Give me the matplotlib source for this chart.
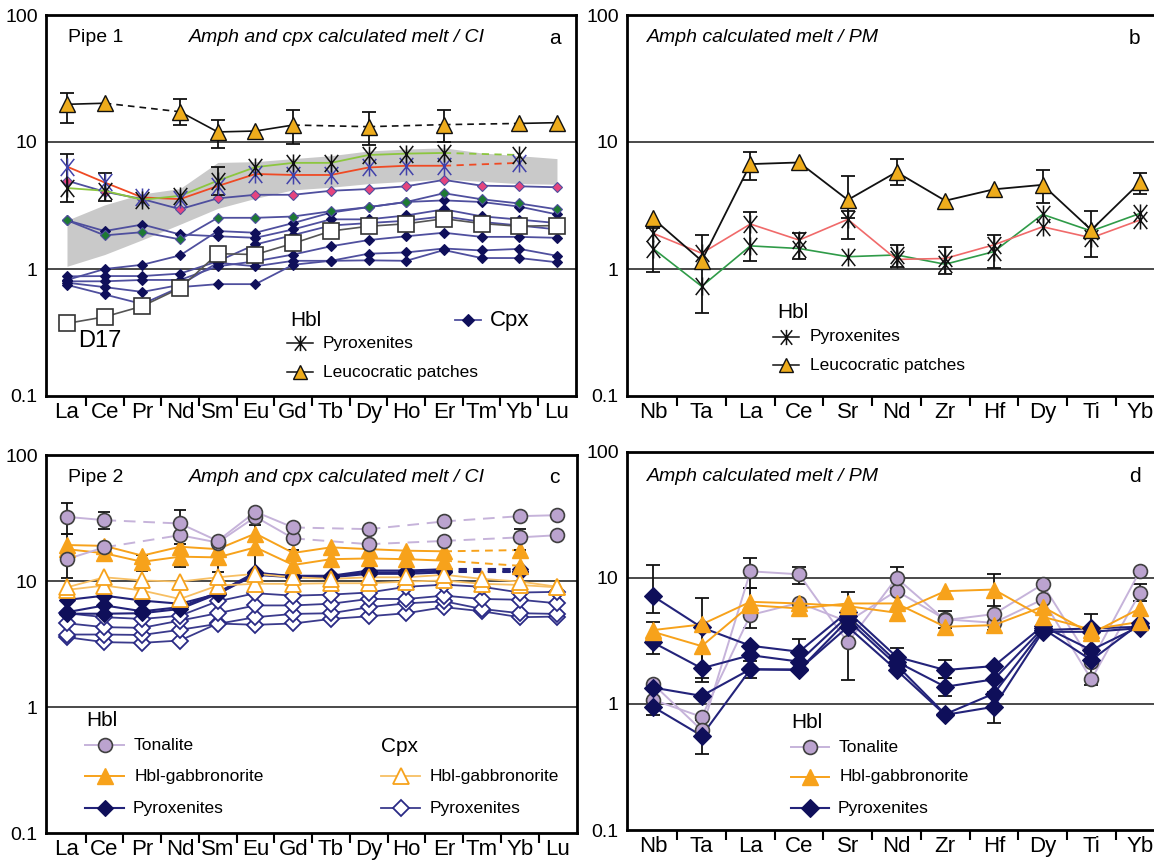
import numpy as np
import matplotlib
matplotlib.use("Agg")
import matplotlib.pyplot as plt
from matplotlib.lines import Line2D
from matplotlib.path import Path

plt.rcParams["font.family"] = ["Liberation Sans", "DejaVu Sans"]

nan = np.nan

# ---------------------------------------------------------------- data
REE = ["La", "Ce", "Pr", "Nd", "Sm", "Eu", "Gd", "Tb", "Dy", "Ho", "Er", "Tm", "Yb", "Lu"]
PM = ["Nb", "Ta", "La", "Ce", "Sr", "Nd", "Zr", "Hf", "Dy", "Ti", "Yb"]
YTICKS = [0.1, 1, 10, 100]
YTICKLABELS = ["0.1", "1", "10", "100"]

# Pipe 1 (panel a), chondrite-normalised
a_leuco = [19.8, 20.2, nan, 17.3, 12.0, 12.2, 13.6, nan, 13.2, nan, 13.7, nan, 14.0, 14.2]
a_leuco_lo = [14.2, nan, nan, 13.6, 9.0, nan, 9.7, nan, 9.4, nan, 10.0, nan, nan, nan]
a_leuco_hi = [24.5, nan, nan, 21.7, 14.9, nan, 17.8, nan, 17.3, nan, 17.8, nan, nan, nan]
a_pyx1 = [4.34, 4.13, 3.51, 3.77, 4.96, 6.34, 6.85, 6.85, 7.9, 8.1, 8.2, nan, 7.9, nan]
a_pyx1_lo = [3.4, 3.45, nan, nan, 3.8, nan, nan, nan, nan, nan, nan, nan, nan, nan]
a_pyx1_hi = [8.0, 5.75, nan, nan, 6.3, nan, nan, nan, nan, nan, nan, nan, nan, nan]
a_pyx2 = [6.4, 4.8, 3.66, 3.55, 4.5, 5.6, 5.5, 5.5, 6.3, 6.5, 6.5, nan, 6.85, nan]
a_band_lo = [1.05, 1.3, 1.7, 2.25, 3.0, 3.6, 4.2, 4.4, 4.7, 4.9, 5.1, 4.9, 4.7, 4.65]
a_band_hi = [2.42, 3.2, 3.9, 4.3, 6.9, 7.0, 7.4, 7.8, 8.5, 8.8, 9.0, 8.2, 7.8, 7.4]
a_cpx_pink = [4.96, 4.06, 3.55, 2.96, 3.6, 3.84, 3.84, 4.13, 4.26, 4.48, 5.03, 4.53, 4.48, 4.4]
a_cpx_green = [2.42, 1.84, 1.95, 1.71, 2.53, 2.53, 2.59, 2.85, 3.07, 3.37, 3.95, 3.54, 3.28, 2.95]
a_cpx1 = [2.42, 1.99, 2.24, 1.87, 1.81, 1.76, 2.05, 2.46, 2.46, 2.64, 2.95, 2.6, 2.45, 2.3]
a_cpx2 = [0.82, 1.0, 1.08, 1.28, 1.99, 1.93, 2.3, 2.78, 3.07, 3.37, 3.47, 3.37, 3.1, 2.69]
a_cpx3 = [0.875, 0.88, 0.88, 0.92, 1.15, 1.56, 1.85, 2.2, 2.3, 2.4, 2.6, 2.35, 2.2, 2.05]
a_cpx4 = [0.80, 0.80, 0.82, 0.82, 1.05, 1.15, 1.30, 1.51, 1.69, 1.81, 1.93, 1.79, 1.79, 1.76]
a_cpx5 = [0.78, 0.72, 0.66, 0.75, 1.12, 1.05, 1.16, 1.16, 1.32, 1.35, 1.45, 1.40, 1.44, 1.27]
a_cpx6 = [0.75, 0.63, 0.53, 0.72, 0.76, 0.76, 1.08, 1.16, 1.17, 1.16, 1.41, 1.22, 1.22, 1.13]
a_d17 = [0.373, 0.42, 0.51, 0.707, 1.32, 1.30, 1.59, 1.99, 2.17, 2.27, 2.49, 2.28, 2.17, 2.2]

# Pipe 1 (panel b), primitive-mantle-normalised
b_leuco = [2.5, 1.16, 6.7, 6.9, 3.5, 5.8, 3.45, 4.24, 4.6, 2.03, 4.8]
b_leuco_lo = [nan, 1.0, 5.0, nan, 2.5, 4.6, nan, nan, 3.3, 1.25, 3.87]
b_leuco_hi = [nan, 1.85, 8.4, nan, 5.4, 7.36, nan, nan, 6.0, 2.86, 5.7]
b_pyx1 = [1.91, 1.33, 2.26, 1.69, 2.46, 1.19, 1.21, 1.55, 2.15, 1.76, 2.43]
b_pyx1_lo = [nan, nan, nan, nan, 1.71, nan, nan, nan, nan, nan, nan]
b_pyx1_hi = [nan, nan, nan, nan, 2.86, nan, nan, nan, nan, nan, nan]
b_pyx2 = [1.45, 0.73, 1.52, 1.45, 1.25, 1.29, 1.09, 1.37, 2.69, 1.99, 2.74]
b_pyx2_lo = [0.94, 0.45, 1.16, 1.19, nan, 1.04, 0.91, 1.01, nan, nan, nan]
b_pyx2_hi = [2.1, 1.0, 2.8, 1.93, nan, 1.55, 1.5, 1.85, nan, nan, nan]

# Pipe 2 (panel c), chondrite-normalised
c_ton1 = [32.3, 30.4, nan, 28.6, 20.8, 35.4, 26.6, nan, 25.8, nan, 29.7, nan, 32.7, 33.3]
c_ton1_lo = [23.5, 25.8, nan, 22.0, nan, nan, nan, nan, nan, nan, nan, nan, nan, nan]
c_ton1_hi = [41.4, 35.0, nan, 36.5, nan, nan, nan, nan, nan, nan, nan, nan, nan, nan]
c_ton2 = [14.9, 18.5, nan, 23.1, 20.2, 32.3, 21.8, nan, 19.6, nan, 20.8, nan, 22.2, 23.1]
c_ton2_lo = [nan, nan, nan, nan, nan, nan, nan, nan, nan, nan, nan, nan, 17.5, nan]
c_ton2_hi = [nan, nan, nan, nan, nan, nan, nan, nan, nan, nan, nan, nan, 26.1, nan]
c_gab1 = [19.3, 19.0, 15.9, 18.7, 17.9, 23.8, 16.7, 18.5, 17.9, 17.4, 17.2, nan, 17.6, nan]
c_gab2 = [17.9, 16.6, 14.2, 15.6, 15.4, 18.5, 13.4, 14.9, 15.1, 14.9, 14.5, nan, 13.2, nan]
c_gab2_lo = [10.6, nan, 12.0, 12.8, 11.8, 11.6, 12.0, nan, nan, nan, nan, nan, nan, nan]
c_gab2_hi = [23.5, nan, 16.0, 19.5, 19.5, 28.0, 17.5, nan, nan, nan, nan, nan, nan, nan]
c_cgab1 = [8.9, 10.7, 10.1, 9.9, 10.7, 11.4, 10.7, 10.4, 10.7, 10.7, 11.2, 10.4, 9.9, 9.0]
c_cgab2 = [8.5, 9.2, 8.4, 7.2, 9.2, 9.5, 9.5, 9.6, 9.6, 9.9, 10.1, 9.5, 9.3, 8.9]
c_pyx1 = [7.07, 7.65, 6.99, 6.6, 7.9, 11.5, 11.0, 11.0, 12.1, 12.1, 12.4, nan, 12.4, nan]
c_pyx2 = [5.65, 6.4, 5.75, 6.2, 8.1, 11.7, 10.8, 10.9, 11.7, 11.7, 12.1, nan, 12.1, nan]
c_pyx3 = [5.5, 5.5, 5.55, 6.0, 7.9, 11.2, 10.7, 10.7, 11.4, 11.4, 11.7, nan, 11.7, nan]
c_cpyx1 = [5.55, 5.16, 5.0, 5.3, 6.9, 8.0, 7.65, 7.8, 8.1, 9.0, 9.35, 9.0, 8.1, 8.2]
c_cpyx2 = [4.62, 4.30, 4.25, 4.85, 5.55, 6.4, 6.4, 6.6, 7.2, 7.2, 7.65, 7.2, 7.1, 6.65]
c_cpyx3 = [3.76, 3.76, 3.73, 4.1, 4.57, 5.16, 5.48, 5.55, 6.19, 6.65, 6.9, 6.0, 5.55, 5.48]
c_cpyx4 = [3.58, 3.27, 3.23, 3.37, 4.6, 4.49, 4.6, 5.0, 5.25, 5.55, 6.2, 5.75, 5.16, 5.22]

# Pipe 2 (panel d), primitive-mantle-normalised
d_ton1 = [1.44, 0.62, 11.3, 10.7, 3.08, 10.0, 4.63, 5.17, 8.9, 2.17, 11.4]
d_ton1_lo = [nan, nan, 8.3, 9.0, 1.55, 8.3, 4.0, nan, nan, nan, nan]
d_ton1_hi = [nan, nan, 14.5, 12.3, 7.7, 12.3, 5.5, nan, nan, nan, nan]
d_ton2 = [1.08, 0.79, 5.08, 6.35, 4.5, 7.9, 4.7, 4.41, 6.76, 1.57, 7.6]
d_ton2_lo = [nan, nan, nan, nan, nan, nan, nan, 3.9, nan, 1.42, 6.6]
d_ton2_hi = [nan, nan, nan, nan, nan, nan, nan, 6.0, nan, 2.5, 9.0]
d_gab1 = [3.86, 4.28, 6.47, 6.28, 5.98, 5.3, 7.86, 8.1, 4.92, 3.9, 4.49]
d_gab1_lo = [nan, nan, nan, nan, nan, nan, nan, 4.3, nan, nan, nan]
d_gab1_hi = [nan, nan, nan, nan, nan, nan, nan, 10.7, nan, nan, nan]
d_gab2 = [3.74, 2.88, 6.09, 5.73, 6.28, 6.28, 4.1, 4.23, 5.91, 3.63, 5.73]
d_gab2_lo = [nan, 1.6, 4.0, nan, nan, nan, nan, nan, nan, 3.2, nan]
d_gab2_hi = [nan, 6.9, 8.3, nan, nan, nan, nan, nan, nan, 5.2, nan]
d_pyx1 = [7.18, 4.05, 2.9, 2.6, 5.4, 2.37, 1.86, 2.0, 4.15, 2.68, 4.15]
d_pyx1_lo = [5.3, nan, nan, 2.1, nan, 2.0, 1.6, nan, nan, nan, nan]
d_pyx1_hi = [12.6, nan, nan, 3.3, nan, 2.8, 2.23, 2.6, nan, nan, nan]
d_pyx2 = [3.08, 1.92, 2.44, 2.17, 4.99, 2.17, 1.37, 1.57, 3.98, 2.23, 4.36]
d_pyx2_lo = [2.5, 1.5, nan, nan, nan, nan, 1.15, nan, nan, nan, nan]
d_pyx2_hi = [4.5, 2.5, nan, nan, nan, nan, 1.6, nan, nan, nan, nan]
d_pyx3 = [1.35, 1.16, 1.89, 1.86, 4.63, 2.04, 0.83, 1.21, 3.86, 3.98, 4.1]
d_pyx4 = [0.95, 0.56, 1.88, 1.88, 4.1, 1.86, 0.82, 0.95, 3.74, 3.74, 4.0]
d_pyx4_lo = [0.82, 0.40, 1.6, nan, nan, nan, nan, 0.71, nan, nan, nan]
d_pyx4_hi = [1.1, 0.75, 2.2, nan, nan, nan, nan, 1.25, nan, nan, nan]

# ---------------------------------------------------------------- styling
NAVY = "#0f0f5a"
NAVY_LINE_A = "#4f4f9e"
NAVY_LINE = "#23237a"
PINK = "#e6447e"
DGREEN = "#1d7a33"
LGREEN = "#8cc63f"
RED = "#ef4a24"
BLUE_X = "#4242aa"
GOLD = "#eeac1c"
TON_FILL = "#bba3cf"
TON_LINE = "#c6b3da"
TON_EDGE = "#404040"
ORANGE = "#f7a21b"
ORANGE_LIGHT = "#f7bf63"
GRID = "#3a3a3a"

# six-armed asterisk: vertical bar plus a steep X
STAR = Path(
    [(0, -1), (0, 1), (-0.75, -0.95), (0.75, 0.95), (-0.75, 0.95), (0.75, -0.95)],
    [Path.MOVETO, Path.LINETO, Path.MOVETO, Path.LINETO, Path.MOVETO, Path.LINETO],
)

W, H = 1154, 863
fig = plt.figure(figsize=(W / 100, H / 100), dpi=100)
fig.patch.set_facecolor("white")


def make_axes(left, right, top, bottom, labels, first_px, step_px):
    ax = fig.add_axes([left / W, 1 - bottom / H, (right - left) / W, (bottom - top) / H])
    ax.set_yscale("log")
    ax.set_ylim(0.1, 100)
    ax.set_xlim(-(first_px - left) / step_px, (right - first_px) / step_px)
    n = len(labels)
    ax.set_xticks(np.arange(n) + 0.5 if False else np.arange(n - 1) + 0.5)
    ax.set_xticklabels([])
    ax.set_xticks(np.arange(n), minor=True)
    ax.set_xticklabels(labels, minor=True, fontsize=16)
    ax.tick_params(axis="x", which="major", direction="out", length=7, width=1.5, color="black")
    ax.tick_params(axis="x", which="minor", length=0, pad=4)
    ax.set_yticks(YTICKS)
    ax.set_yticklabels(YTICKLABELS, fontsize=14)
    ax.yaxis.set_minor_locator(plt.NullLocator())
    ax.tick_params(axis="y", length=0, pad=6)
    for s in ax.spines.values():
        s.set_linewidth(2.0)
        s.set_color("black")
    for yv in (1, 10):
        ax.axhline(yv, color=GRID, lw=1.3, zorder=1)
    return ax


def series(ax, vals, color, lw, marker, ms, mfc, mec, mew=1.0, z=3, dash=(4, 3)):
    v = np.array(vals, dtype=float)
    idx = np.where(~np.isnan(v))[0]
    run = [idx[0]]
    for a, b in zip(idx[:-1], idx[1:]):
        if b - a == 1:
            run.append(b)
        else:
            if len(run) > 1:
                ax.plot(run, v[run], color=color, lw=lw, zorder=z)
            ax.plot([a, b], [v[a], v[b]], color=color, lw=lw, ls=(0, dash), zorder=z)
            run = [b]
    if len(run) > 1:
        ax.plot(run, v[run], color=color, lw=lw, zorder=z)
    if marker is not None:
        ax.plot(idx, v[idx], ls="none", marker=marker, ms=ms, mfc=mfc, mec=mec, mew=mew, zorder=z + 0.5)


def errs(ax, vals, lo, hi, cap=5, z=2.5):
    v = np.array(vals, dtype=float)
    lo = np.array(lo, dtype=float)
    hi = np.array(hi, dtype=float)
    idx = np.where(~np.isnan(lo))[0]
    ax.errorbar(idx, v[idx], yerr=[v[idx] - lo[idx], hi[idx] - v[idx]], fmt="none",
                ecolor="#111111", elinewidth=1.3, capsize=cap, capthick=1.3, zorder=z)


def fx(x):
    return x / W


def fy(y):
    return 1 - y / H


def ftext(x, y, s, size, **kw):
    fig.text(fx(x), fy(y), s, fontsize=size, ha=kw.pop("ha", "left"), va=kw.pop("va", "center"), **kw)


def fkey(x0, x1, y, color, lw, marker, ms, mfc, mec, mew=1.0):
    fig.add_artist(Line2D([fx(x0), fx(x1)], [fy(y), fy(y)], color=color, lw=lw, transform=fig.transFigure))
    fig.add_artist(Line2D([fx((x0 + x1) / 2)], [fy(y)], marker=marker, ms=ms, mfc=mfc, mec=mec, mew=mew,
                          ls="none", transform=fig.transFigure))


# ---------------------------------------------------------------- panel a
axa = make_axes(46, 576, 15, 396, REE, 67, 37.69)
axa.fill_between(np.arange(len(REE)), a_band_lo, a_band_hi, color="#c9c9c9", lw=0, zorder=1.2)
for s in (a_cpx6, a_cpx5, a_cpx4, a_cpx3, a_cpx2, a_cpx1):
    series(axa, s, NAVY_LINE_A, 1.3, "D", 5.5, NAVY, NAVY, 0.8, z=3)
series(axa, a_cpx_green, NAVY_LINE_A, 1.3, "D", 5.5, DGREEN, NAVY_LINE_A, 0.8, z=3.2)
series(axa, a_cpx_pink, NAVY_LINE_A, 1.3, "D", 5.5, PINK, NAVY_LINE_A, 0.8, z=3.2)
series(axa, a_d17, "#555555", 1.2, "s", 11, "white", "#333333", 1.2, z=3.6)
errs(axa, a_pyx1, a_pyx1_lo, a_pyx1_hi, z=3.7)
series(axa, a_pyx2, RED, 1.3, STAR, 13, "none", BLUE_X, 1.1, z=3.8)
series(axa, a_pyx1, LGREEN, 1.3, STAR, 13, "none", "#111111", 1.1, z=3.9)
errs(axa, a_leuco, a_leuco_lo, a_leuco_hi, z=4)
series(axa, a_leuco, "#111111", 1.2, "^", 12, GOLD, "#111111", 1.0, z=4.2)

ftext(68, 38, "Pipe 1", 14)
ftext(189, 38, "Amph and cpx calculated melt / CI", 14, style="italic")
ftext(549, 38, "a", 15)
ftext(78, 341, "D17", 17)
ftext(290, 320, "Hbl", 15)
fkey(287, 313, 343, "#111111", 1.1, STAR, 11, "none", "#111111", 1.1)
ftext(323, 343, "Pyroxenites", 12.5)
fkey(287, 313, 372, "#111111", 1.1, "^", 10, GOLD, "#111111", 1.0)
ftext(323, 372, "Leucocratic patches", 12.5)
fkey(455, 481, 320, NAVY_LINE_A, 1.3, "D", 6, NAVY, NAVY, 0.8)
ftext(490, 320, "Cpx", 16)

# ---------------------------------------------------------------- panel b
axb = make_axes(627, 1166, 15, 396, PM, 653, 48.7)
errs(axb, b_pyx2, b_pyx2_lo, b_pyx2_hi, z=2.5)
errs(axb, b_pyx1, b_pyx1_lo, b_pyx1_hi, z=2.5)
series(axb, b_pyx2, "#2f9b48", 1.2, STAR, 13, "none", "#111111", 1.1, z=3)
series(axb, b_pyx1, "#f06a6a", 1.2, STAR, 13, "none", "#111111", 1.1, z=3.1)
errs(axb, b_leuco, b_leuco_lo, b_leuco_hi, z=3.5)
series(axb, b_leuco, "#111111", 1.3, "^", 12, GOLD, "#111111", 1.0, z=4)

ftext(647, 38, "Amph calculated melt / PM", 14, style="italic")
ftext(1129, 38, "b", 15)
ftext(777, 312, "Hbl", 15)
fkey(773, 799, 337, "#111111", 1.1, STAR, 11, "none", "#111111", 1.1)
ftext(810, 337, "Pyroxenites", 12.5)
fkey(773, 799, 365, "#111111", 1.1, "^", 10, GOLD, "#111111", 1.0)
ftext(810, 365, "Leucocratic patches", 12.5)

# ---------------------------------------------------------------- panel c
axc = make_axes(46, 577, 455, 833, REE, 66.7, 37.75)
for s in (c_cpyx4, c_cpyx3, c_cpyx2, c_cpyx1):
    series(axc, s, "#3a3a8c", 1.3, "D", 8, "white", "#2a2a85", 1.3, z=3)
for s in (c_pyx3, c_pyx2, c_pyx1):
    series(axc, s, NAVY_LINE, 1.5, "D", 8.5, NAVY, NAVY, 0.8, z=3.3)
for s in (c_cgab2, c_cgab1):
    series(axc, s, ORANGE_LIGHT, 1.3, "^", 11, "white", ORANGE, 1.3, z=3.5)
errs(axc, c_gab2, c_gab2_lo, c_gab2_hi, cap=4, z=3.6)
for s in (c_gab2, c_gab1):
    series(axc, s, ORANGE, 1.4, "^", 11, ORANGE, ORANGE, 1.0, z=3.8)
errs(axc, c_ton1, c_ton1_lo, c_ton1_hi, cap=4, z=3.9)
errs(axc, c_ton2, c_ton2_lo, c_ton2_hi, cap=4, z=3.9)
for s in (c_ton2, c_ton1):
    series(axc, s, TON_LINE, 1.4, "o", 10, TON_FILL, TON_EDGE, 1.2, z=4, dash=(6, 4))

ftext(68, 477, "Pipe 2", 14)
ftext(189, 477, "Amph and cpx calculated melt / CI", 14, style="italic")
ftext(549, 477, "c", 15)
ftext(86, 720, "Hbl", 15)
fkey(85, 124, 745, TON_LINE, 1.4, "o", 10, TON_FILL, TON_EDGE, 1.2)
ftext(134, 745, "Tonalite", 12.5)
fkey(85, 124, 776, ORANGE, 1.4, "^", 11, ORANGE, ORANGE, 1.0)
ftext(135, 776, "Hbl-gabbronorite", 12.5)
fkey(85, 124, 808, NAVY_LINE, 1.5, "D", 8.5, NAVY, NAVY, 0.8)
ftext(133, 808, "Pyroxenites", 12.5)
ftext(381, 746, "Cpx", 15)
fkey(381, 420, 776, ORANGE_LIGHT, 1.3, "^", 11, "white", ORANGE, 1.3)
ftext(430, 776, "Hbl-gabbronorite", 12.5)
fkey(381, 420, 808, "#3a3a8c", 1.3, "D", 8, "white", "#2a2a85", 1.3)
ftext(430, 808, "Pyroxenites", 12.5)

# ---------------------------------------------------------------- panel d
axd = make_axes(627, 1166, 452, 830, PM, 653, 48.7)
for s, lo, hi in ((d_pyx1, d_pyx1_lo, d_pyx1_hi), (d_pyx2, d_pyx2_lo, d_pyx2_hi),
                  (d_pyx4, d_pyx4_lo, d_pyx4_hi)):
    errs(axd, s, lo, hi, cap=5, z=2.5)
for s, lo, hi in ((d_ton1, d_ton1_lo, d_ton1_hi), (d_ton2, d_ton2_lo, d_ton2_hi),
                  (d_gab1, d_gab1_lo, d_gab1_hi), (d_gab2, d_gab2_lo, d_gab2_hi)):
    errs(axd, s, lo, hi, cap=5, z=2.5)
for s in (d_ton2, d_ton1):
    series(axd, s, TON_LINE, 1.4, "o", 10, TON_FILL, TON_EDGE, 1.2, z=3)
for s in (d_pyx4, d_pyx3, d_pyx2, d_pyx1):
    series(axd, s, NAVY_LINE, 1.5, "D", 9.5, NAVY, NAVY, 0.8, z=3.3)
for s in (d_gab2, d_gab1):
    series(axd, s, ORANGE, 1.4, "^", 12, ORANGE, ORANGE, 1.0, z=3.6)

ftext(647, 476, "Amph calculated melt / PM", 14, style="italic")
ftext(1129, 476, "d", 15)
ftext(791, 722, "Hbl", 15)
fkey(791, 829, 747, TON_LINE, 1.4, "o", 10, TON_FILL, TON_EDGE, 1.2)
ftext(839, 747, "Tonalite", 12.5)
fkey(791, 829, 777, ORANGE, 1.4, "^", 12, ORANGE, ORANGE, 1.0)
ftext(840, 777, "Hbl-gabbronorite", 12.5)
fkey(791, 829, 808, NAVY_LINE, 1.5, "D", 9.5, NAVY, NAVY, 0.8)
ftext(838, 808, "Pyroxenites", 12.5)

fig.savefig("out.png", dpi=100, facecolor="white")
